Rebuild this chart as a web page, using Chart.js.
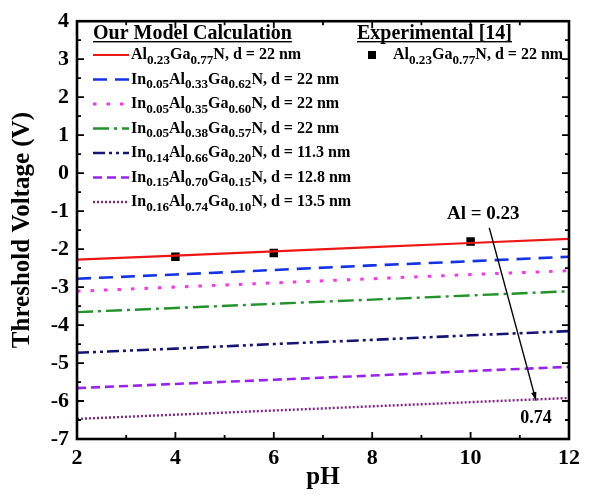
<!DOCTYPE html>
<html>
<head>
<meta charset="utf-8">
<script src="https://cdn.jsdelivr.net/npm/chart.js@4/dist/chart.umd.min.js"></script>
<style>
  html, body { margin: 0; padding: 0; background: #fff; }
  #wrap { width: 590px; height: 495px; }
</style>
</head>
<body>
<div id="wrap"><canvas id="vthChart"></canvas></div>
<script>
// --- Data: threshold voltage (V) vs pH ---
const pH = [2, 4, 6, 8, 10, 12];
const vthAl23 = [-2.28, -2.17, -2.06, -1.95, -1.84, -1.73];
const vthIn05Al33 = [-2.78, -2.67, -2.55, -2.43, -2.32, -2.20];
const vthIn05Al35 = [-3.11, -3.00, -2.89, -2.78, -2.67, -2.57];
const vthIn05Al38 = [-3.66, -3.55, -3.44, -3.33, -3.22, -3.11];
const vthIn14Al66 = [-4.73, -4.62, -4.50, -4.39, -4.27, -4.16];
const vthIn15Al70 = [-5.66, -5.55, -5.44, -5.33, -5.21, -5.10];
const vthIn16Al74 = [-6.47, -6.36, -6.25, -6.14, -6.03, -5.92];

const modelLabels = [
  'Al_{0.23}Ga_{0.77}N, d = 22 nm',
  'In_{0.05}Al_{0.33}Ga_{0.62}N, d = 22 nm',
  'In_{0.05}Al_{0.35}Ga_{0.60}N, d = 22 nm',
  'In_{0.05}Al_{0.38}Ga_{0.57}N, d = 22 nm',
  'In_{0.14}Al_{0.66}Ga_{0.20}N, d = 11.3 nm',
  'In_{0.15}Al_{0.70}Ga_{0.15}N, d = 12.8 nm',
  'In_{0.16}Al_{0.74}Ga_{0.10}N, d = 13.5 nm'
];

// Experimental points [14]
const expPH = [4, 6, 10];
const expVth = [-2.2, -2.1, -1.8];
const expLabel = 'Al_{0.23}Ga_{0.77}N, d = 22 nm';

// Axis ticks
const xTicks = [2, 4, 6, 8, 10, 12];
const yTicks = [-7, -6, -5, -4, -3, -2, -1, 0, 1, 2, 3, 4];

// Al-fraction trend arrow (pH, V) and its end labels
const arrowFrom = [10.38, -1.44];
const arrowTo = [11.33, -5.99];
const arrowLabels = ['Al = 0.23', '0.74'];

// --- Line styles ---
const modelSeries = [vthAl23, vthIn05Al33, vthIn05Al35, vthIn05Al38, vthIn14Al66, vthIn15Al70, vthIn16Al74];
const styles = [
  { color: '#ee1515', dash: [], width: 2.2 },
  { color: '#1433e6', dash: [14, 8], width: 2.6 },
  { color: '#ff33ee', dash: [3.5, 10], width: 3 },
  { color: '#22922a', dash: [16, 5, 3, 5], width: 2.4 },
  { color: '#141478', dash: [12, 4, 3, 4, 3, 4], width: 2.6 },
  { color: '#9a22ee', dash: [9, 5], width: 2.6 },
  { color: '#8a2090', dash: [2, 2], width: 2.4 }
];

const SERIF = '"Liberation Serif", "Times New Roman", serif';

// draws "A_{sub}B" text with lowered, smaller subscripts
function drawRich(ctx, str, x, y, size) {
  const parts = str.split(/_\{([^}]*)\}/);
  let cx = x;
  parts.forEach((p, i) => {
    const sub = i % 2 === 1;
    ctx.font = 'bold ' + (sub ? size * 0.82 : size) + 'px ' + SERIF;
    ctx.fillText(p, cx, sub ? y + size * 0.3 : y);
    cx += ctx.measureText(p).width;
  });
  return cx;
}

function underlinedTitle(ctx, text, x, y) {
  ctx.font = 'bold 20px ' + SERIF;
  ctx.fillText(text, x, y);
  const w = ctx.measureText(text).width;
  ctx.fillRect(x, y + 2, w, 1.4);
}

const framePlugin = {
  id: 'frame',
  afterDraw(chart) {
    const ctx = chart.ctx;
    const { left, right, top, bottom } = chart.chartArea;
    const xs = chart.scales.x, ys = chart.scales.y;
    ctx.save();
    ctx.fillStyle = '#000';
    ctx.strokeStyle = '#000';

    // inward ticks on all four sides
    ctx.lineWidth = 1.8;
    ctx.beginPath();
    for (let v = 2; v <= 12; v += 1) {
      const px = xs.getPixelForValue(v);
      const len = v % 2 === 0 ? 7 : 4;
      ctx.moveTo(px, bottom); ctx.lineTo(px, bottom - len);
      ctx.moveTo(px, top); ctx.lineTo(px, top + len);
    }
    for (let v = -7; v <= 4; v += 0.5) {
      const py = ys.getPixelForValue(v);
      const len = Number.isInteger(v) ? 7 : 4;
      ctx.moveTo(left, py); ctx.lineTo(left + len, py);
      ctx.moveTo(right, py); ctx.lineTo(right - len, py);
    }
    ctx.stroke();

    ctx.lineWidth = 2.6;
    ctx.strokeRect(left, top, right - left, bottom - top);

    // legend: model curves
    ctx.textBaseline = 'alphabetic';
    underlinedTitle(ctx, 'Our Model Calculation', 93, 39);
    modelLabels.forEach((lab, i) => {
      const y = 55 + i * 24.5;
      const st = styles[i];
      ctx.save();
      ctx.strokeStyle = st.color;
      ctx.lineWidth = st.width;
      ctx.setLineDash(st.dash);
      ctx.beginPath();
      ctx.moveTo(93, y); ctx.lineTo(129, y);
      ctx.stroke();
      ctx.restore();
      drawRich(ctx, lab, 131, y + 4, 16);
    });

    // legend: experiment
    underlinedTitle(ctx, 'Experimental [14]', 357, 39);
    ctx.fillRect(368, 51, 8, 8);
    drawRich(ctx, expLabel, 393, 59, 16);

    // Al-fraction arrow
    const x0 = xs.getPixelForValue(arrowFrom[0]), y0 = ys.getPixelForValue(arrowFrom[1]);
    const x1 = xs.getPixelForValue(arrowTo[0]), y1 = ys.getPixelForValue(arrowTo[1]);
    ctx.lineWidth = 1.4;
    ctx.beginPath();
    ctx.moveTo(x0, y0); ctx.lineTo(x1, y1);
    ctx.stroke();
    const ang = Math.atan2(y1 - y0, x1 - x0);
    ctx.beginPath();
    ctx.moveTo(x1, y1);
    ctx.lineTo(x1 - 9 * Math.cos(ang - 0.3), y1 - 9 * Math.sin(ang - 0.3));
    ctx.lineTo(x1 - 9 * Math.cos(ang + 0.3), y1 - 9 * Math.sin(ang + 0.3));
    ctx.closePath();
    ctx.fill();

    ctx.textAlign = 'center';
    ctx.textBaseline = 'middle';
    ctx.font = 'bold 19px ' + SERIF;
    ctx.fillText(arrowLabels[0], x0 - 6, y0 - 14);
    ctx.font = 'bold 18px ' + SERIF;
    ctx.fillText(arrowLabels[1], x1, y1 + 18);
    ctx.restore();
  }
};

const datasets = modelSeries.map((vals, i) => ({
  data: pH.map((p, k) => ({ x: p, y: vals[k] })),
  borderColor: styles[i].color,
  borderWidth: styles[i].width,
  borderDash: styles[i].dash,
  pointRadius: 0,
  fill: false,
  tension: 0
}));
datasets.push({
  data: expPH.map((p, k) => ({ x: p, y: expVth[k] })),
  showLine: false,
  pointStyle: 'rect',
  pointRadius: 6,
  backgroundColor: '#000',
  borderWidth: 0
});

const tickFont = { family: SERIF, size: 22, weight: 'bold' };
const titleFont = { family: SERIF, size: 25, weight: 'bold' };

new Chart(document.getElementById('vthChart'), {
  type: 'line',
  data: { datasets },
  options: {
    responsive: true,
    maintainAspectRatio: false,
    animation: false,
    layout: { padding: { top: 15, right: 21, left: 0, bottom: 0 } },
    plugins: { legend: { display: false }, tooltip: { enabled: false } },
    scales: {
      x: {
        type: 'linear',
        min: 2, max: 12,
        grid: { display: false, drawTicks: false },
        border: { display: false },
        afterBuildTicks: s => { s.ticks = xTicks.map(v => ({ value: v })); },
        afterFit: s => { s.height = 56; },
        ticks: { color: '#000', font: tickFont, padding: 6, maxRotation: 0 },
        title: { display: true, text: 'pH', color: '#000', font: titleFont, padding: 2 }
      },
      y: {
        type: 'linear',
        min: -7, max: 4,
        grid: { display: false, drawTicks: false },
        border: { display: false },
        afterBuildTicks: s => { s.ticks = yTicks.map(v => ({ value: v })); },
        afterFit: s => { s.width = 77; },
        ticks: { color: '#000', font: tickFont, padding: 8 },
        title: { display: true, text: 'Threshold Voltage (V)', color: '#000', font: titleFont, padding: 8 }
      }
    }
  },
  plugins: [framePlugin]
});
</script>
</body>
</html>
